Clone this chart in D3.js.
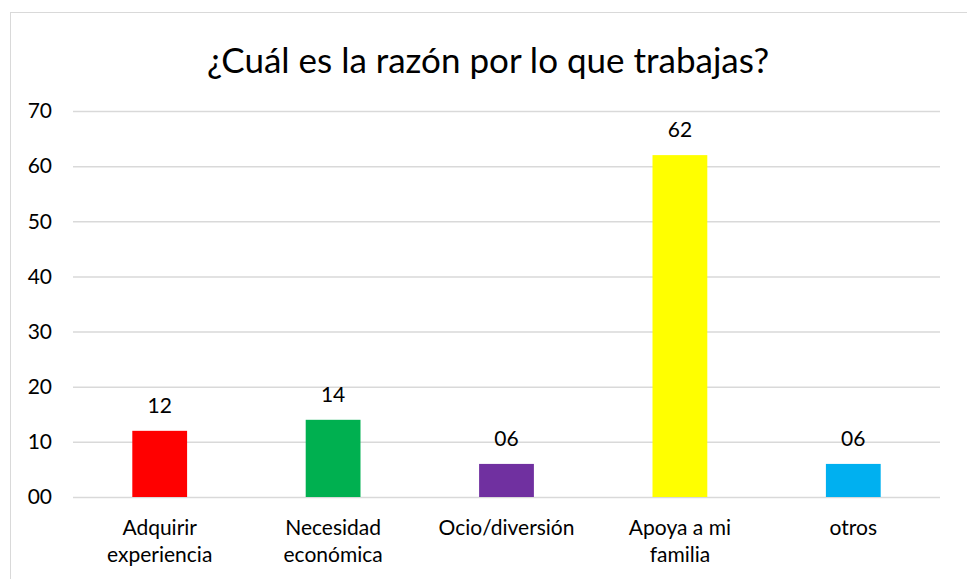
<!DOCTYPE html>
<html>

<head>
    <title>Razón por lo que trabajas</title>
    <script src="https://d3js.org/d3.v7.min.js"></script>
    <style>
        body { margin: 0; background: white; }
        text { font-family: Lato, "Open Sans", sans-serif; fill: #000; }
    </style>
</head>

<body>
    <div id="chart"></div>
    <script>
        // DATA
        var categories = [["Adquirir", "experiencia"], ["Necesidad", "económica"], ["Ocio/diversión"], ["Apoya a mi", "familia"], ["otros"]]
        var values = [12, 14, 6, 62, 6]
        var colors = ["#FF0000", "#00B050", "#7030A0", "#FFFF00", "#00B0F0"]
        var yTicks = [0, 10, 20, 30, 40, 50, 60, 70]

        // SETUP
        var width = 967
        var height = 579
        var plot = { left: 73, right: 940, top: 111, bottom: 497 }

        var svg = d3.select('#chart').append('svg')
            .attr('width', width)
            .attr('height', height)

        // chart frame
        svg.append('rect')
            .attr('x', 10.5).attr('y', 12.5)
            .attr('width', 980).attr('height', 600)
            .style('fill', 'white')
            .style('stroke', '#d9d9d9')

        svg.append('text')
            .attr('x', 488).attr('y', 73)
            .attr('text-anchor', 'middle')
            .style('font-size', '35px')
            .text('¿Cuál es la razón por lo que trabajas?')

        var x = d3.scaleBand()
            .domain(d3.range(values.length))
            .range([plot.left, plot.right])
            .paddingInner(0.684)
            .paddingOuter(0.342)

        var y = d3.scaleLinear()
            .domain([0, 70])
            .range([plot.bottom, plot.top])

        var fmt = d3.format('02d')

        // gridlines + y labels
        var yAxis = svg.append('g')
            .attr('transform', 'translate(' + plot.left + ',0)')
            .call(d3.axisLeft(y).tickValues(yTicks).tickFormat(fmt)
                .tickSize(-(plot.right - plot.left)).tickPadding(21))
        yAxis.select('.domain').remove()
        yAxis.selectAll('line').style('stroke', '#d9d9d9').style('stroke-width', 1.5)
        yAxis.selectAll('text')
            .style('font-size', '21px')
            .style('font-family', 'Lato, "Open Sans", sans-serif')
            .attr('fill', '#000')

        // bars
        svg.selectAll('rect.bar')
            .data(values)
            .enter().append('rect')
            .attr('class', 'bar')
            .attr('x', function (d, i) { return x(i) })
            .attr('y', function (d) { return y(d) })
            .attr('width', x.bandwidth())
            .attr('height', function (d) { return y(0) - y(d) })
            .style('fill', function (d, i) { return colors[i] })

        // value labels
        svg.selectAll('text.val')
            .data(values)
            .enter().append('text')
            .attr('class', 'val')
            .attr('x', function (d, i) { return x(i) + x.bandwidth() / 2 })
            .attr('y', function (d) { return y(d) - 18 })
            .attr('text-anchor', 'middle')
            .style('font-size', '21px')
            .text(function (d) { return fmt(d) })

        // category labels
        var catLabels = svg.selectAll('text.cat')
            .data(categories)
            .enter().append('text')
            .attr('class', 'cat')
            .attr('text-anchor', 'middle')
            .style('font-size', '21px')
            .attr('transform', function (d, i) {
                return 'translate(' + (x(i) + x.bandwidth() / 2) + ',535)'
            })
        catLabels.selectAll('tspan')
            .data(function (d) { return d })
            .enter().append('tspan')
            .attr('x', 0)
            .attr('dy', function (d, j) { return j == 0 ? 0 : 27 })
            .text(function (d) { return d })
    </script>
</body>

</html>
